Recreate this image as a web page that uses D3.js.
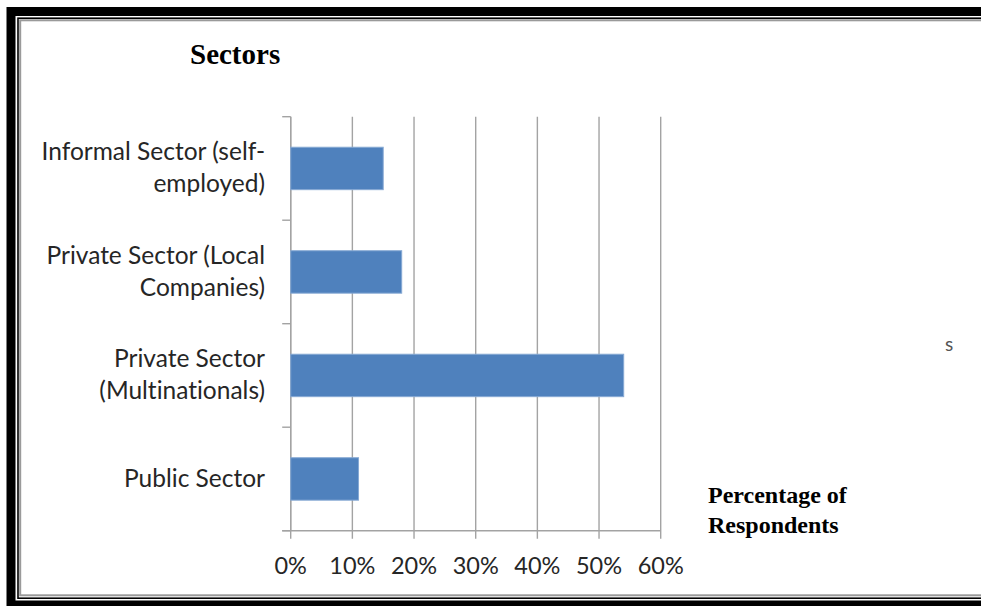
<!DOCTYPE html>
<html>
<head>
<meta charset="utf-8">
<script src="https://cdn.jsdelivr.net/npm/d3@7"></script>
<style>
  html, body { margin: 0; padding: 0; background: #fff; }
  svg { display: block; }
  text { font-variant-ligatures: none; font-feature-settings: "liga" 0; }
</style>
</head>
<body>
<svg id="chart" width="981" height="606"></svg>
<script>
// Sector of employment, share of respondents
const categories = [
  ["Informal Sector (self-", "employed)"],
  ["Private Sector (Local", "Companies)"],
  ["Private Sector", "(Multinationals)"],
  ["Public Sector"]
];
const values = [15, 18, 54, 11];
const xTicks = [0, 10, 20, 30, 40, 50, 60];
const title = "Sectors";
const axisTitle = ["Percentage of", "Respondents"];

const svg = d3.select("#chart");

// Framed page border: heavy outer rule, thin inner rule, grey shadow line
svg.append("rect").attr("x", 11).attr("y", 11.5).attr("width", 1100).attr("height", 593.5)
  .attr("fill", "none").attr("stroke", "#000").attr("stroke-width", 9);
svg.append("rect").attr("x", 18).attr("y", 18.2).attr("width", 1100).attr("height", 580)
  .attr("fill", "none").attr("stroke", "#000").attr("stroke-width", 1.6);
svg.append("rect").attr("x", 20.2).attr("y", 20.3).attr("width", 1100).attr("height", 575)
  .attr("fill", "none").attr("stroke", "#9a9a9a").attr("stroke-width", 2);

const plot = { left: 290.7, right: 660.7, top: 116.7, bottom: 530.7 };

const x = d3.scaleLinear().domain([0, 60]).range([plot.left, plot.right]);
const y = d3.scaleBand().domain(d3.range(categories.length))
  .range([plot.top, plot.bottom]).padding(0);

const labelFont = "Lato, 'Open Sans', sans-serif";
const gridColor = "#a3a3a3";

// Vertical gridlines with downward tick marks
svg.append("g").selectAll("line").data(xTicks).join("line")
  .attr("x1", d => x(d)).attr("x2", d => x(d))
  .attr("y1", plot.top).attr("y2", plot.bottom + 8)
  .attr("stroke", gridColor).attr("stroke-width", 1.4);

// Category axis line and tick marks between bands
const bandEdges = d3.range(categories.length + 1).map(i => plot.top + i * y.step());
svg.append("line")
  .attr("x1", plot.left).attr("x2", plot.left)
  .attr("y1", plot.top).attr("y2", plot.bottom)
  .attr("stroke", gridColor).attr("stroke-width", 1.4);
svg.append("g").selectAll("line").data(bandEdges).join("line")
  .attr("x1", plot.left - 8.5).attr("x2", plot.left)
  .attr("y1", d => d).attr("y2", d => d)
  .attr("stroke", gridColor).attr("stroke-width", 1.4);

// Value axis baseline
svg.append("line")
  .attr("x1", plot.left - 8.5).attr("x2", plot.right)
  .attr("y1", plot.bottom).attr("y2", plot.bottom)
  .attr("stroke", gridColor).attr("stroke-width", 1.4);

// Bars
const barH = y.bandwidth() * 0.41;
svg.append("g").selectAll("rect").data(values).join("rect")
  .attr("x", x(0))
  .attr("y", (d, i) => y(i) + (y.bandwidth() - barH) / 2)
  .attr("width", d => x(d) - x(0))
  .attr("height", barH)
  .attr("fill", "#4f81bd")
  .attr("stroke", "#86a9d4").attr("stroke-width", 1);

// Category labels (right aligned, wrapped)
const lineGap = 32;
const labels = svg.append("g")
  .attr("font-family", labelFont).attr("font-size", 24.5).attr("fill", "#262626")
  .attr("text-anchor", "end");
categories.forEach((lines, i) => {
  const cy = y(i) + y.bandwidth() / 2;
  const first = cy + 8 - (lines.length - 1) * lineGap / 2;
  const t = labels.append("text").attr("x", 265);
  lines.forEach((ln, j) => {
    t.append("tspan").attr("x", 265).attr("y", first + j * lineGap).text(ln);
  });
});

// Value tick labels
svg.append("g")
  .attr("font-family", labelFont).attr("font-size", 23.5).attr("fill", "#262626")
  .attr("text-anchor", "middle")
  .selectAll("text").data(xTicks).join("text")
  .attr("x", d => x(d)).attr("y", 574)
  .text(d => d3.format(".0%")(d / 100));

// Chart title
svg.append("text")
  .attr("x", 190).attr("y", 64)
  .attr("font-family", "'Liberation Serif', 'Times New Roman', serif")
  .attr("font-weight", "bold").attr("font-size", 29).attr("fill", "#000")
  .text(title);

// Value axis title
const at = svg.append("text")
  .attr("font-family", "'Liberation Serif', 'Times New Roman', serif")
  .attr("font-weight", "bold").attr("font-size", 24).attr("fill", "#000");
axisTitle.forEach((ln, j) => {
  at.append("tspan").attr("x", 708).attr("y", 503 + j * 30).text(ln);
});

// Stray clipped glyph at the right edge of the chart area
svg.append("text")
  .attr("x", 945).attr("y", 351)
  .attr("font-family", labelFont).attr("font-size", 19).attr("fill", "#555")
  .text("s");
</script>
</body>
</html>
